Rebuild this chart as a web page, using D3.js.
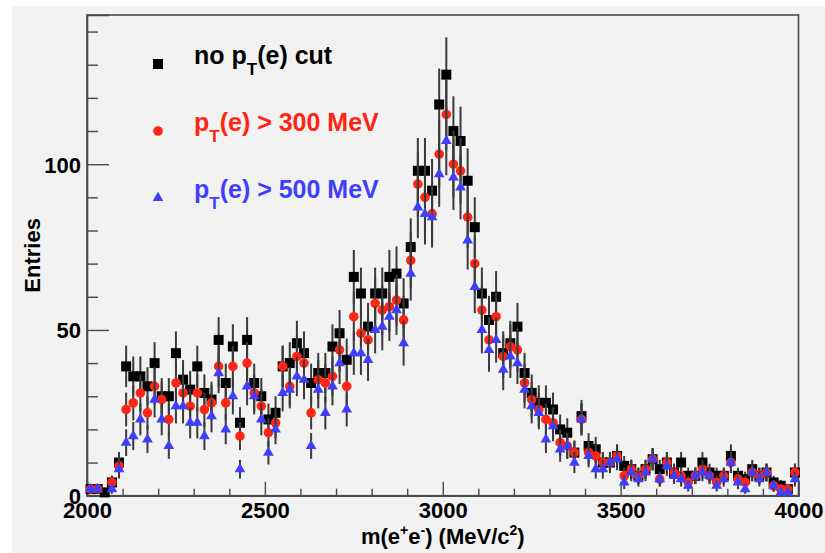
<!DOCTYPE html>
<html>
<head>
<meta charset="utf-8">
<script src="https://cdn.jsdelivr.net/npm/d3@7/dist/d3.min.js"></script>
<style>
  html, body { margin: 0; padding: 0; background: #ffffff; }
  svg { display: block; }
  text { font-family: "Liberation Sans", Arial, Helvetica, sans-serif; font-weight: bold; }
</style>
</head>
<body>
<svg id="chart" width="825" height="553"></svg>
<script>
// Invariant-mass bin centres (20 MeV/c^2 bins from 2000 to 4000)
const massCenters = [
  2010, 2030, 2050, 2070, 2090, 2110, 2130, 2150, 2170, 2190,
  2210, 2230, 2250, 2270, 2290, 2310, 2330, 2350, 2370, 2390,
  2410, 2430, 2450, 2470, 2490, 2510, 2530, 2550, 2570, 2590,
  2610, 2630, 2650, 2670, 2690, 2710, 2730, 2750, 2770, 2790,
  2810, 2830, 2850, 2870, 2890, 2910, 2930, 2950, 2970, 2990,
  3010, 3030, 3050, 3070, 3090, 3110, 3130, 3150, 3170, 3190,
  3210, 3230, 3250, 3270, 3290, 3310, 3330, 3350, 3370, 3390,
  3410, 3430, 3450, 3470, 3490, 3510, 3530, 3550, 3570, 3590,
  3610, 3630, 3650, 3670, 3690, 3710, 3730, 3750, 3770, 3790,
  3810, 3830, 3850, 3870, 3890, 3910, 3930, 3950, 3970, 3990
];

// Entries per bin: no electron pT cut
const noCut = [
  2, 2, 1, 4, 10, 39, 36, 36, 33, 40,
  30, 30, 43, 35, 32, 39, 31, 29, 47, 34,
  45, 22, 47, 34, 30, 23, 25, 39, 40, 46,
  43, 34, 37, 37, 45, 49, 41, 66, 61, 51,
  61, 61, 66, 67, 58, 75, 98, 98, 92, 118,
  127, 110, 107, 95, 81, 61, 53, 60, 43, 46,
  51, 37, 31, 28, 28, 26, 20, 19, 13, 24,
  15, 14, 10, 10, 12, 9, 8, 6, 8, 11,
  8, 10, 7, 10, 6, 6, 10, 7, 6, 6,
  12, 6, 5, 8, 6, 7, 4, 3, 2, 7
];

// Entries per bin: pT(e) > 300 MeV
const pt300 = [
  2, 2, 0, 4, 9, 26, 28, 31, 25, 33,
  29, 23, 34, 31, 27, 31, 26, 28, 39, 28,
  39, 18, 40, 31, 27, 19, 22, 39, 33, 42,
  40, 25, 35, 34, 36, 44, 33, 54, 49, 47,
  58, 56, 57, 59, 53, 71, 94, 90, 85, 103,
  115, 100, 98, 84, 70, 56, 47, 54, 42, 45,
  44, 34, 29, 26, 23, 22, 16, 15, 13, 23,
  13, 12, 10, 10, 12, 6, 8, 6, 8, 11,
  5, 10, 7, 6, 4, 6, 8, 6, 4, 6,
  10, 5, 4, 7, 6, 7, 3, 2, 2, 7
];

// Entries per bin: pT(e) > 500 MeV
const pt500 = [
  2, 2, 0, 2, 8, 16, 18, 23, 17, 29,
  23, 15, 27, 27, 22, 22, 18, 24, 37, 20,
  30, 8, 33, 30, 23, 13, 20, 31, 32, 36,
  35, 15, 32, 25, 33, 40, 26, 43, 43, 41,
  50, 51, 54, 56, 46, 67, 87, 85, 84, 97,
  107, 96, 93, 77, 63, 50, 44, 47, 38, 42,
  40, 32, 27, 25, 17, 21, 14, 15, 10, 23,
  12, 8, 8, 10, 11, 4, 7, 5, 7, 11,
  5, 9, 6, 5, 3, 6, 7, 6, 3, 5,
  10, 4, 2, 7, 5, 7, 3, 1, 1, 5
];

const xMajorTicks = [2000, 2500, 3000, 3500, 4000];
const xMinorTicks = [2100, 2200, 2300, 2400, 2600, 2700, 2800, 2900,
                     3100, 3200, 3300, 3400, 3600, 3700, 3800, 3900];
const yMajorTicks = [0, 50, 100];
const yMinorTicks = [10, 20, 30, 40, 60, 70, 80, 90, 110, 120, 130, 140];

const seriesNames = ["noCut", "pt300", "pt500"];
const seriesColors = ["#000000", "#ff2414", "#3f3ffa"];
const seriesShapes = [d3.symbolSquare, d3.symbolCircle, d3.symbolTriangle];
const seriesSizes = [100, 72, 50];
const seriesValues = [noCut, pt300, pt500];

const svg = d3.select("#chart");
const W = 825, H = 553;
const plot = { left: 87, right: 798.5, top: 15, bottom: 495.7 };

// Canvas: light-grey pad inside a thin white border
svg.append("rect").attr("x", 0).attr("y", 0).attr("width", W).attr("height", H).attr("fill", "#ffffff");
svg.append("rect").attr("x", 12).attr("y", 6).attr("width", W - 12).attr("height", H - 6).attr("fill", "#f2f2f2");

const x = d3.scaleLinear().domain([2000, 4000]).range([plot.left, plot.right]);
const y = d3.scaleLinear().domain([0, 145]).range([plot.bottom, plot.top]);

// Frame
svg.append("rect")
  .attr("x", plot.left).attr("y", plot.top)
  .attr("width", plot.right - plot.left).attr("height", plot.bottom - plot.top)
  .attr("fill", "none").attr("stroke", "#4a4a4a").attr("stroke-width", 1.6);

// X axis: ticks pointing into the plot
const xAxisMajor = d3.axisBottom(x).tickValues(xMajorTicks).tickSize(-14).tickPadding(6).tickFormat(d3.format("d"));
const gx = svg.append("g").attr("transform", `translate(0,${plot.bottom})`).call(xAxisMajor);
gx.select(".domain").attr("stroke", "#4a4a4a").attr("stroke-width", 1.6);
gx.selectAll(".tick line").attr("stroke", "#4a4a4a").attr("stroke-width", 1.4);
gx.selectAll(".tick text").attr("font-size", 22).attr("fill", "#000").attr("dy", "0.74em");

const xAxisMinor = d3.axisBottom(x).tickValues(xMinorTicks).tickSize(-7).tickFormat("");
const gxm = svg.append("g").attr("transform", `translate(0,${plot.bottom})`).call(xAxisMinor);
gxm.select(".domain").remove();
gxm.selectAll(".tick line").attr("stroke", "#4a4a4a").attr("stroke-width", 1.4);

// Y axis: ticks pointing into the plot
const yAxisMajor = d3.axisLeft(y).tickValues(yMajorTicks).tickSize(-22).tickPadding(6).tickFormat(d3.format("d"));
const gy = svg.append("g").attr("transform", `translate(${plot.left},0)`).call(yAxisMajor);
gy.select(".domain").attr("stroke", "#4a4a4a").attr("stroke-width", 1.6);
gy.selectAll(".tick line").attr("stroke", "#4a4a4a").attr("stroke-width", 1.4);
gy.selectAll(".tick text").attr("font-size", 22).attr("fill", "#000").attr("dy", "0.36em");

const yAxisMinor = d3.axisLeft(y).tickValues(yMinorTicks).tickSize(-11).tickFormat("");
const gym = svg.append("g").attr("transform", `translate(${plot.left},0)`).call(yAxisMinor);
gym.select(".domain").remove();
gym.selectAll(".tick line").attr("stroke", "#4a4a4a").attr("stroke-width", 1.4);

// Axis titles
const xTitle = svg.append("text")
  .attr("x", (plot.left + plot.right) / 2).attr("y", 544)
  .attr("text-anchor", "middle").attr("font-size", 22).attr("fill", "#000");
xTitle.append("tspan").text("m(e");
xTitle.append("tspan").attr("font-size", 14).attr("dy", -9).text("+");
xTitle.append("tspan").attr("dy", 9).text("e");
xTitle.append("tspan").attr("font-size", 14).attr("dy", -9).text("-");
xTitle.append("tspan").attr("dy", 9).text(") (MeV/c");
xTitle.append("tspan").attr("font-size", 14).attr("dy", -9).text("2");
xTitle.append("tspan").attr("dy", 9).text(")");

svg.append("text")
  .attr("transform", `translate(40,${(plot.top + plot.bottom) / 2}) rotate(-90)`)
  .attr("text-anchor", "middle").attr("font-size", 22).attr("fill", "#000")
  .text("Entries");

// Data: error bars (sqrt N) then markers, one histogram at a time
const series = seriesNames.map((name, k) => ({
  name,
  color: seriesColors[k],
  shape: seriesShapes[k],
  size: seriesSizes[k],
  points: massCenters.map((m, i) => ({ m, v: seriesValues[k][i] })).filter(p => p.v > 0)
}));

series.forEach(s => {
  const g = svg.append("g").attr("class", "series-" + s.name);
  g.selectAll("line.err").data(s.points).join("line")
    .attr("class", "err")
    .attr("x1", d => x(d.m)).attr("x2", d => x(d.m))
    .attr("y1", d => y(d.v + Math.sqrt(d.v)))
    .attr("y2", d => y(Math.max(0, d.v - Math.sqrt(d.v))))
    .attr("stroke", "#3a3a3a").attr("stroke-width", 2);
  g.selectAll("path.mk").data(s.points).join("path")
    .attr("class", "mk")
    .attr("transform", d => `translate(${x(d.m)},${y(d.v)})`)
    .attr("d", d3.symbol().type(s.shape).size(s.size))
    .attr("fill", s.color);
});

// Legend
const legendRows = [
  { pre: "no p", sub: "T", post: "(e) cut", color: seriesColors[0], shape: seriesShapes[0], size: seriesSizes[0], yPos: 64 },
  { pre: "p", sub: "T", post: "(e) > 300 MeV", color: seriesColors[1], shape: seriesShapes[1], size: seriesSizes[1], yPos: 131 },
  { pre: "p", sub: "T", post: "(e) > 500 MeV", color: seriesColors[2], shape: seriesShapes[2], size: seriesSizes[2], yPos: 198 }
];
const lg = svg.append("g").attr("class", "legend");
legendRows.forEach(r => {
  lg.append("path")
    .attr("transform", `translate(158,${r.yPos})`)
    .attr("d", d3.symbol().type(r.shape).size(r.size))
    .attr("fill", r.color);
  const t = lg.append("text").attr("x", 194).attr("y", r.yPos).attr("font-size", 25).attr("fill", r.color);
  t.append("tspan").text(r.pre);
  t.append("tspan").attr("font-size", 17).attr("dy", 11).text(r.sub);
  t.append("tspan").attr("dy", -11).text(r.post);
});
</script>
</body>
</html>
